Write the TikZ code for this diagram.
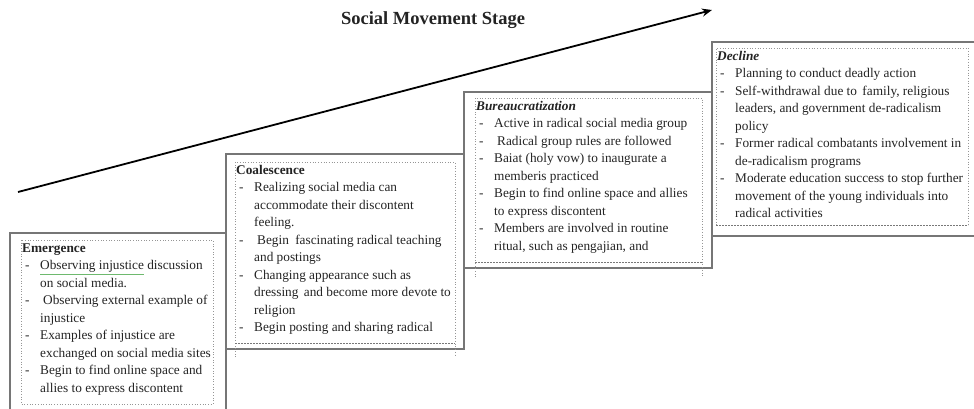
\documentclass[tikz,border=0pt]{standalone}
\usepackage{fontspec}
\setmainfont{Liberation Serif}
\usepackage{xcolor}
\definecolor{framegray}{RGB}{118,118,118}
\definecolor{boxgray}{RGB}{150,150,150}
\definecolor{textgray}{RGB}{35,35,35}
\definecolor{grammargreen}{RGB}{110,185,110}
\usetikzlibrary{arrows.meta}
\newcommand{\stagefont}{\fontsize{13.3}{17.5}\selectfont}
\newcommand{\itemdash}{\makebox[18pt][l]{\hspace{3pt}-}}
\newcommand{\itemgap}{\makebox[18pt]{}}
\tikzset{
    frame/.style={draw=framegray, line width=1.6pt},
    textbox/.style={draw=boxgray, dotted, line width=0.7pt},
    cutline/.style={draw=boxgray!80!black, dash pattern=on 2pt off 1pt, line width=0.8pt},
    stagetext/.style={anchor=north west, inner sep=0pt, text=textgray, font=\stagefont},
    heading/.style={font=\fontsize{18.5}{20}\selectfont\bfseries, text=textgray},
    trend/.style={-{Stealth[length=10pt, width=8pt]}, line width=1.8pt}
}

\begin{document}
\begin{tikzpicture}[x=1pt, y=-1pt]
    \useasboundingbox (0,0) rectangle (974,408);

    % rising arrow and heading
    \coordinate (trend-start) at (18,192);
    \coordinate (trend-end) at (712,10);
    \draw[trend] (trend-start) -- (trend-end);
    \node[heading] (stage-title) at (433,20) {Social Movement Stage};

    % staircase frames
    \draw[frame] (10,233) rectangle (226,412);
    \draw[frame] (226,154) rectangle (464,349);
    \draw[frame] (464,92) rectangle (712,268);
    \draw[frame] (712,42) rectangle (978,236);

    % dotted text boxes
    \draw[textbox] (21,240) rectangle (213,404);
    \draw[textbox] (235,357) -- (235,162) -- (455,162) -- (455,357);
    \draw[cutline] (235,343) -- (455,343);
    \draw[textbox] (475,277) -- (475,98) -- (702,98) -- (702,277);
    \draw[cutline] (475,262) -- (702,262);
    \draw[textbox] (716,225) -- (716,48) -- (968,48) -- (968,225);
    \draw[cutline] (716,225) -- (968,225);

    \node[stagetext] (emergence-text) at (22,240) {\begin{tabular}{@{}l@{}}
        \textbf{Emergence}\\
        \itemdash{\color{grammargreen}\underline{\textcolor{textgray}{Observing injustice}}} discussion\\
        \itemgap on social media.\\
        \itemdash\hspace{3pt}Observing external example of\\
        \itemgap injustice\\
        \itemdash Examples of injustice are\\
        \itemgap exchanged on social media sites\\
        \itemdash Begin to find online space and\\
        \itemgap allies to express discontent
    \end{tabular}};

    \node[stagetext] (coalescence-text) at (236,162) {\begin{tabular}{@{}l@{}}
        \textbf{Coalescence}\\
        \itemdash Realizing social media can\\
        \itemgap accommodate their discontent\\
        \itemgap feeling.\\
        \itemdash\hspace{3pt}Begin\hspace{3pt} fascinating radical teaching\\
        \itemgap and postings\\
        \itemdash Changing appearance such as\\
        \itemgap dressing\hspace{2pt} and become more devote to\\
        \itemgap religion\\
        \itemdash Begin posting and sharing radical
    \end{tabular}};

    \node[stagetext] (bureaucratization-text) at (476,98) {\begin{tabular}{@{}l@{}}
        \textbf{\textit{Bureaucratization}}\\
        \itemdash Active in radical social media group\\
        \itemdash\hspace{3pt}Radical group rules are followed\\
        \itemdash Baiat (holy vow) to inaugurate a\\
        \itemgap memberis practiced\\
        \itemdash Begin to find online space and allies\\
        \itemgap to express discontent\\
        \itemdash Members are involved in routine\\
        \itemgap ritual, such as pengajian, and
    \end{tabular}};

    \node[stagetext] (decline-text) at (717,48) {\begin{tabular}{@{}l@{}}
        \textbf{\textit{Decline}}\\
        \itemdash Planning to conduct deadly action\\
        \itemdash Self-withdrawal due to\hspace{2pt} family, religious\\
        \itemgap leaders, and government de-radicalism\\
        \itemgap policy\\
        \itemdash Former radical combatants involvement in\\
        \itemgap de-radicalism programs\\
        \itemdash Moderate education success to stop further\\
        \itemgap movement of the young individuals into\\
        \itemgap radical activities
    \end{tabular}};
\end{tikzpicture}
\end{document}
